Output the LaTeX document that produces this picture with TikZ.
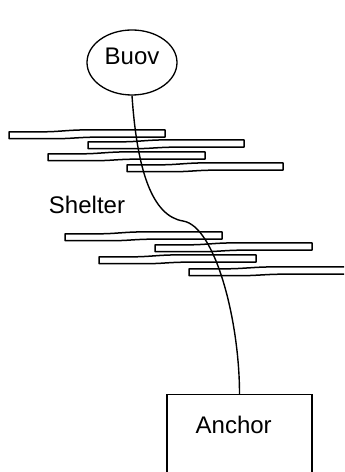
\documentclass[tikz,border=0pt]{standalone}
\usepackage{fontspec}
\setmainfont{Liberation Sans}
\usetikzlibrary{shapes.geometric}
\tikzset{
  every picture/.style={x=1bp,y=-1bp},
  line/.style={line width=1.4bp, black},
  plankline/.style={line width=1.5bp, black, line join=round},
  lbl/.style={inner sep=0pt, font=\fontsize{24bp}{28bp}\selectfont},
  buoyshape/.style={ellipse, draw, line width=1.3bp, minimum width=90bp, minimum height=65bp, inner sep=0pt},
  anchorbox/.style={rectangle, draw, line width=1.3bp, minimum width=145bp, minimum height=100bp, inner sep=0pt, anchor=north}
}
\newcommand\myplank[3]{%
  \draw[plankline] (#1,#2+0.8) -- ({#1+0.22*#3},#2+0.8)
    .. controls ({#1+0.32*#3},#2+0.8) and ({#1+0.38*#3},#2-1.1) .. ({#1+0.5*#3},#2-1.1)
    -- ({#1+#3},#2-1.1) -- ({#1+#3},#2+6.2) -- ({#1+0.55*#3},#2+6.2)
    .. controls ({#1+0.45*#3},#2+6.2) and ({#1+0.4*#3},#2+7.7) .. ({#1+0.3*#3},#2+7.7)
    -- (#1,#2+7.7) -- cycle;}
\begin{document}
\begin{tikzpicture}
\useasboundingbox (0,0) rectangle (344,472);
\clip (0,0) rectangle (344,472);
% buoy
\node[buoyshape] (buoy) at (132,62.5) {};
\node[lbl] (buoytext) at (132,56.5) {Buov};
% anchor
\node[anchorbox] (anchor) at (239.5,394) {};
\node[lbl] (anchortext) at (233.7,425) {Anchor};
% shelter label
\node[lbl] (shelter) at (87,205) {Shelter};
% planks
\myplank{9}{131}{156}
\myplank{88}{141}{156}
\myplank{48}{153}{157}
\myplank{127}{164}{156}
\myplank{65}{233}{157}
\myplank{155}{244}{157}
\myplank{99}{256}{157}
\myplank{189}{268}{170}
% rope
\coordinate (bend) at (183,221);
\draw[line] (buoy.south) .. controls (137,170) and (152,216) .. (bend)
  .. controls (215,226) and (239.5,320) .. (anchor.north);
\end{tikzpicture}
\end{document}
